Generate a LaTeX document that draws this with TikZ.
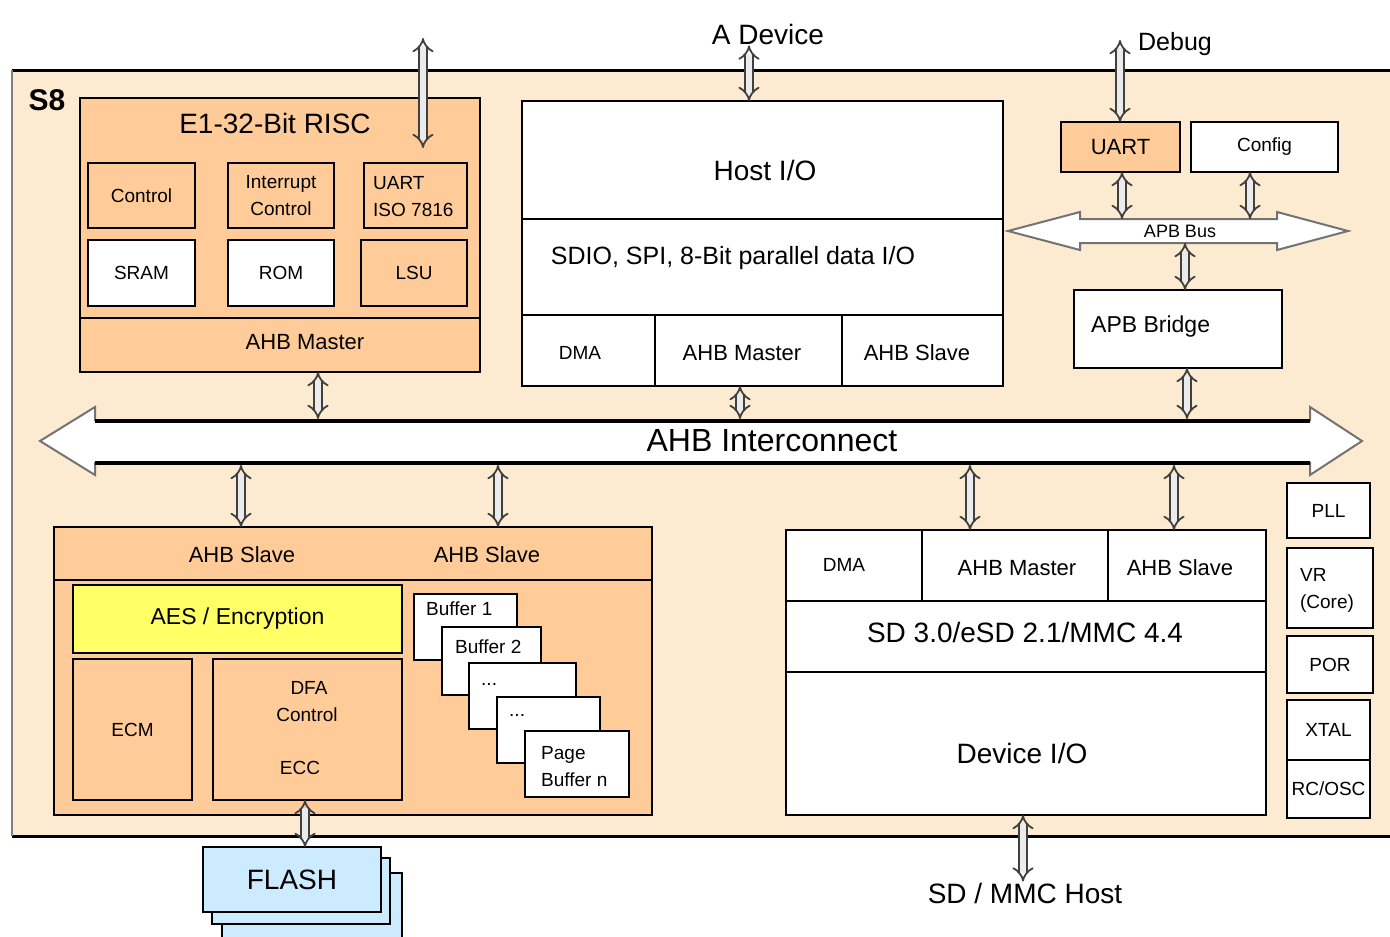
\documentclass[tikz,border=0pt]{standalone}
\usepackage{fontspec}
\setmainfont{Liberation Sans}
\usetikzlibrary{arrows.meta}
\definecolor{peach}{HTML}{FFCC99}
\definecolor{bgp}{HTML}{FCEBD0}
\definecolor{aesy}{HTML}{FFFF66}
\definecolor{flashb}{HTML}{CCEBFF}
\newcommand\bx[7]{\node[#6, minimum width={(#4)-(#2)}, minimum height={(#5)-(#3)}] (#1) at ({((#2)+(#4))/2},{((#3)+(#5))/2}) {#7};}
\tikzset{
  box/.style={draw=black, line width=2.5pt, inner sep=0pt, outer sep=0pt, align=center},
  pbox/.style={box, fill=peach},
  wbox/.style={box, fill=white},
  sep/.style={draw=black, line width=2.5pt},
  dar/.style={draw=black!75, double=white!92!black, double distance=5.5pt, line width=1.8pt, {Implies}-{Implies}},
  f18/.style={font=\fontsize{18}{24}\selectfont},
  f19/.style={font=\fontsize{19}{27}\selectfont},
  f22/.style={font=\fontsize{22}{28}\selectfont},
  f23/.style={font=\fontsize{23}{28}\selectfont},
  f25/.style={font=\fontsize{25}{30}\selectfont},
  f28/.style={font=\fontsize{28}{34}\selectfont},
  f30/.style={font=\fontsize{30}{36}\selectfont},
  f32/.style={font=\fontsize{32}{38}\selectfont},
  txt/.style={inner sep=1pt, align=center},
}
\begin{document}
\begin{tikzpicture}[x=1pt,y=-1pt]
\useasboundingbox (0,0) rectangle (1390,937);
\fill[white] (0,0) rectangle (1390,937);
% chip background
\fill[bgp] (12,70) rectangle (1392,836);
\draw[line width=3pt] (12,70) -- (1392,70);
\draw[line width=3pt] (12,836) -- (1392,836);
\draw[gray, line width=2.5pt] (12,70) -- (12,836);
\node[font=\bfseries\fontsize{30}{36}\selectfont, inner sep=0pt] (s8) at (47,100) {S8};

% CPU
\bx{cpu}{80}{98}{480}{372}{pbox}{}
\draw[sep] (cpu.west |- 0,318) -- (cpu.east |- 0,318);
\node[txt,f28] (cputitle) at (275,123) {E1-32-Bit RISC};
\node[txt,f22] (cpuahb) at (305,342) {AHB Master};
\bx{ctl}{88}{163}{195}{228}{pbox,f19}{Control}
\bx{intc}{228}{163}{334}{228}{pbox,f19}{Interrupt\\Control}
\bx{uart1}{364}{163}{467}{228}{pbox}{}
\node[txt,f19,align=left,anchor=west] (uart1t) at (372,197) {UART\\ISO 7816};
\bx{sram}{88}{240}{195}{306}{wbox,f19}{SRAM}
\bx{rom}{228}{240}{334}{306}{wbox,f19}{ROM}
\bx{lsu}{361}{240}{467}{306}{pbox,f19}{LSU}

% Host I/O
\bx{host}{522}{101}{1003}{386}{wbox}{}
\draw[sep] (host.west |- 0,219) -- (host.east |- 0,219);
\draw[sep] (host.west |- 0,315) -- (host.east |- 0,315);
\draw[sep] (655,315) -- (655,0 |- host.south);
\draw[sep] (842,315) -- (842,0 |- host.south);
\node[txt,f28] (hostt) at (765,170) {Host I/O};
\node[txt,f25] (sdio) at (733,258) {SDIO, SPI, 8-Bit parallel data I/O};
\node[txt,f19] (hdma) at (580,353) {DMA};
\node[txt,f22] (hahbm) at (742,353) {AHB Master};
\node[txt,f22] (hahbs) at (917,353) {AHB Slave};
\node[txt,f28] (adev) at (768,34) {A Device};

% APB side
\node[txt,f25] (dbg) at (1175,44) {Debug};
\coordinate (dbgend) at (1120,40);
\bx{uart}{1061}{122}{1180}{172}{pbox,f22}{UART}
\bx{cfg}{1191}{122}{1338}{172}{wbox,f19}{Config}
\draw[fill=white, draw=black!55, line width=2pt]
  (1008,231) -- (1080,212) -- (1080,219) -- (1277,219) -- (1277,212) -- (1348,231)
  -- (1277,250) -- (1277,243) -- (1080,243) -- (1080,250) -- cycle;
\node[txt,f18] (apb) at (1180,231) {APB Bus};
\coordinate (apbtop) at (1180,219);
\coordinate (apbbot) at (1180,243);
\bx{bridge}{1074}{290}{1282}{368}{wbox}{}
\node[txt,f23,anchor=west] (bridget) at (1090,327) {APB Bridge};

% AHB interconnect
\draw[fill=white, draw=black!55, line width=2pt]
  (40,441) -- (95,407) -- (95,420) -- (1310,420) -- (1310,407) -- (1362,441)
  -- (1310,475) -- (1310,463) -- (95,463) -- (95,475) -- cycle;
\draw[line width=4pt] (95,421) -- (1310,421);
\draw[line width=4pt] (95,463) -- (1310,463);
\node[txt,f32] (ahb) at (772,441) {AHB Interconnect};
\coordinate (ahbtop) at (700,419);
\coordinate (ahbbot) at (700,465);

% Flash controller
\bx{fc}{54}{527}{652}{815}{pbox}{}
\draw[sep] (fc.west |- 0,580) -- (fc.east |- 0,580);
\node[txt,f22] (fcs1) at (242,555) {AHB Slave};
\node[txt,f22] (fcs2) at (487,555) {AHB Slave};
\bx{aes}{73}{585}{402}{653}{box,fill=aesy,f23}{AES / Encryption}
\bx{ecm}{73}{659}{192}{800}{pbox,f19}{ECM}
\bx{dfa}{213}{659}{402}{800}{pbox}{}
\node[txt,f19] (dfat) at (309,688) {DFA};
\node[txt,f19] (dfac) at (307,715) {Control};
\node[txt,f19] (ecc) at (300,768) {ECC};
\bx{buf1}{414}{594}{517}{660}{wbox}{}
\node[txt,f19,anchor=west] (buf1t) at (425,609) {Buffer 1};
\bx{buf2}{442}{627}{541}{695}{wbox}{}
\node[txt,f19,anchor=west] (buf2t) at (454,647) {Buffer 2};
\bx{buf3}{469}{663}{576}{729}{wbox}{}
\node[txt,f19,anchor=west] (buf3t) at (480,684) {...};
\bx{buf4}{497}{697}{600}{763}{wbox}{}
\node[txt,f19,anchor=west] (buf4t) at (508,715) {...};
\bx{bufn}{525}{731}{629}{797}{wbox}{}
\node[txt,f19,align=left,anchor=west] (bufnt) at (540,767) {Page\\Buffer n};

% FLASH
\bx{fl3}{222}{873}{402}{952}{box,fill=flashb}{}
\bx{fl2}{212}{858}{390}{924}{box,fill=flashb}{}
\bx{flash}{203}{847}{381}{912}{box,fill=flashb,f28}{FLASH}

% SD / MMC
\bx{sd}{786}{530}{1266}{815}{wbox}{}
\draw[sep] (sd.west |- 0,601) -- (sd.east |- 0,601);
\draw[sep] (sd.west |- 0,672) -- (sd.east |- 0,672);
\draw[sep] (922,0 |- sd.north) -- (922,601);
\draw[sep] (1108,0 |- sd.north) -- (1108,601);
\node[txt,f19] (sddma) at (844,565) {DMA};
\node[txt,f22] (sdahbm) at (1017,568) {AHB Master};
\node[txt,f22] (sdahbs) at (1180,568) {AHB Slave};
\node[txt,f28] (sdver) at (1025,632) {SD 3.0/eSD 2.1/MMC 4.4};
\node[txt,f28] (devio) at (1022,753) {Device I/O};
\node[txt,f28] (sdh) at (1025,893) {SD / MMC Host};

% right column
\bx{pll}{1287}{483}{1370}{538}{wbox,f19}{PLL}
\bx{vr}{1287}{548}{1373}{628}{wbox}{}
\node[txt,f19,align=left] (vrt) at (1327,590) {VR\\(Core)};
\bx{por}{1287}{636}{1373}{693}{wbox,f19}{POR}
\bx{xtal}{1287}{700}{1370}{760}{wbox,f19}{XTAL}
\bx{rcosc}{1287}{760}{1370}{818}{wbox,f19}{RC/OSC}

% connectors
\coordinate (cpuext) at (423,38);
\coordinate (cpuin) at (423,148);
\draw[dar] (cpuext) -- (cpuin);
\draw[dar] (749,0 |- adev.south) -- (749,0 |- host.north);
\draw[dar] (740,0 |- host.south) -- (740,0 |- ahbtop);
\draw[dar] (318,0 |- cpu.south) -- (318,0 |- ahbtop);
\draw[dar] (dbgend) -- (1120,0 |- uart.north);
\draw[dar] (1122,0 |- uart.south) -- (1122,0 |- apbtop);
\draw[dar] (1250,0 |- cfg.south) -- (1250,0 |- apbtop);
\draw[dar] (1185,0 |- apbbot) -- (1185,0 |- bridge.north);
\draw[dar] (1187,0 |- bridge.south) -- (1187,0 |- ahbtop);
\draw[dar] (241,0 |- ahbbot) -- (241,0 |- fc.north);
\draw[dar] (498,0 |- ahbbot) -- (498,0 |- fc.north);
\draw[dar] (970,0 |- ahbbot) -- (970,0 |- sd.north);
\draw[dar] (1174,0 |- ahbbot) -- (1174,0 |- sd.north);
\draw[dar] (305,0 |- dfa.south) -- (305,0 |- flash.north);
\draw[dar] (1023,0 |- sd.south) -- (1023,0 |- sdh.north);
\end{tikzpicture}
\end{document}
